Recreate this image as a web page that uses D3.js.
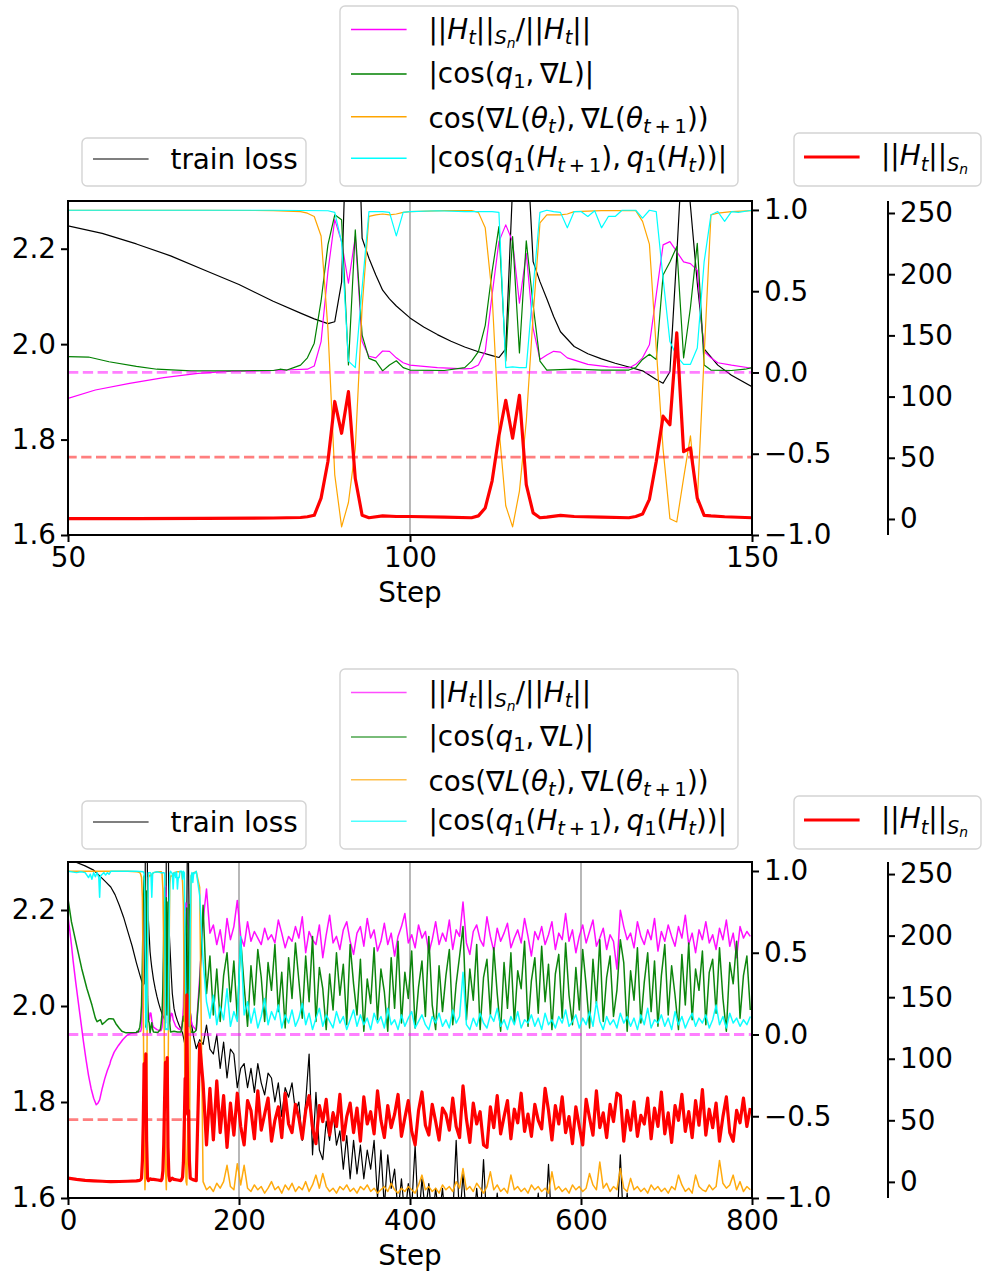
<!DOCTYPE html>
<html><head><meta charset="utf-8">
<script src="https://cdn.jsdelivr.net/npm/d3@7"></script>
<style>body{margin:0;background:#fff}</style>
</head><body>
<svg id="c" width="982" height="1273" style="background:#fff"></svg>
<script>
// ---------- DATA ----------
// window shared by both panels (steps 50–150): [step, value]
const lossMid = [[50,2.248],[55,2.232],[60,2.21],[65,2.185],[70,2.155],[75,2.125],[80,2.09],[84,2.065],[86,2.053],[88,2.043],[89,2.047],[90,2.13],[91,2.585],[92,2.676],[93,2.222],[94,2.18],[95,2.145],[96,2.113],[97,2.095],[98,2.08],[100,2.055],[102,2.036],[104,2.02],[106,2.006],[108,1.994],[110,1.984],[112,1.976],[113,1.972],[114,1.99],[115,2.33],[116,2.75],[117,2.45],[118,2.173],[119,2.131],[120,2.095],[121,2.058],[122,2.026],[124,1.995],[126,1.98],[128,1.969],[130,1.96],[132,1.952],[134,1.944],[136,1.926],[137,1.918],[138,1.942],[139,2.187],[140,2.45],[141,2.29],[142,2.128],[143,1.99],[145,1.956],[147,1.935],[150,1.911]];
const sharpMid = [[50,0.2],[60,0.3],[70,0.5],[80,0.8],[84,1.2],[85,1.8],[86,3],[87,17],[88,47],[89,96],[90,70],[91,104],[92,33],[93,3],[94,1],[96,2.5],[98,2],[100,2],[105,1.5],[109,1],[110,2.5],[111,9],[112,31],[113,68],[114,97],[115,66],[116,101],[117,28],[118,5],[119,1],[120,1.5],[122,3],[124,2],[128,1.5],[132,1],[133,2],[134,4],[135,16],[136,47],[137,84],[138,77],[139,152],[140,55],[141,58],[142,17],[143,3],[144,2.5],[146,1.8],[150,1]];
const gradCosMid = [[50,0.998],[60,0.998],[70,0.998],[80,0.996],[84,0.99],[85,0.98],[86,0.96],[87,0.84],[88,0.27],[89,-0.63],[90,-0.95],[91,-0.8],[92,-0.47],[93,0.4],[94,0.96],[95,0.97],[96,0.975],[97,0.97],[98,0.975],[99,0.985],[100,0.99],[105,0.996],[109,0.996],[110,0.985],[111,0.89],[112,0.48],[113,-0.34],[114,-0.82],[115,-0.95],[116,-0.73],[117,-0.3],[118,0.35],[119,0.92],[120,0.97],[121,0.97],[122,0.97],[123,0.975],[124,0.99],[128,0.996],[133,0.996],[134,0.93],[135,0.79],[136,0.15],[137,-0.47],[138,-0.9],[139,-0.92],[140,-0.65],[141,-0.39],[142,-0.8],[143,0.1],[144,0.97],[145,0.98],[147,0.99],[150,0.996]];
const eigCosMid = [[50,0.998],[60,0.998],[70,0.998],[80,0.998],[88,0.995],[89,0.985],[90,0.8],[91,0.07],[92,0.03],[93,0.52],[94,0.99],[95,0.99],[96,0.99],[97,0.985],[98,0.84],[99,0.985],[100,0.99],[104,0.995],[108,0.99],[112,0.99],[113,0.985],[114,0.03],[115,0.035],[116,0.03],[117,0.03],[118,0.52],[119,0.985],[120,0.998],[121,0.99],[122,0.985],[123,0.89],[124,0.99],[125,0.99],[126,0.96],[127,0.995],[128,0.89],[129,0.96],[130,0.96],[131,0.998],[133,0.998],[134,0.95],[135,0.998],[136,0.99],[137,0.58],[138,0.19],[139,0.1],[140,0.05],[141,0.05],[142,0.15],[143,0.68],[144,0.97],[145,0.99],[146,0.93],[147,0.99],[148,0.985],[150,0.998]];
const alignMid = [[50,0.097],[53,0.095],[56,0.066],[60,0.038],[63,0.02],[68,0.01],[75,0.01],[80,0.012],[81,0.02],[82,0.015],[83,0.03],[84,0.045],[85,0.09],[86,0.18],[87,0.44],[88,0.785],[89,0.97],[90,0.94],[91,0.046],[92,0.877],[93,0.23],[94,0.087],[95,0.07],[96,0.01],[97,0.046],[98,0.072],[99,0.03],[100,0.015],[105,0.012],[108,0.03],[109,0.07],[110,0.128],[111,0.29],[112,0.62],[113,0.897],[114,0.07],[115,0.836],[116,0.12],[117,0.81],[118,0.415],[119,0.07],[120,0.015],[124,0.02],[128,0.015],[132,0.015],[133,0.03],[134,0.08],[135,0.112],[136,0.08],[137,0.6],[138,0.68],[139,0.774],[140,0.09],[141,0.4],[142,0.795],[143,0.046],[144,0.015],[147,0.012],[149,0.02],[150,0.03]];
const ratioMid = [[50,-0.159],[54,-0.108],[59,-0.067],[64,-0.032],[69,-0.005],[74,0.008],[80,0.012],[85,0.02],[86,0.04],[87,0.19],[88,0.62],[89,0.94],[90,0.805],[91,0.549],[92,0.836],[93,0.19],[94,0.1],[95,0.09],[96,0.132],[97,0.13],[98,0.09],[99,0.06],[100,0.045],[104,0.03],[108,0.022],[109,0.025],[110,0.046],[111,0.13],[112,0.477],[113,0.805],[114,0.908],[115,0.805],[116,0.426],[117,0.733],[118,0.272],[119,0.08],[120,0.108],[121,0.13],[122,0.125],[123,0.09],[126,0.05],[129,0.035],[132,0.028],[133,0.05],[134,0.09],[135,0.17],[136,0.477],[137,0.785],[138,0.805],[139,0.743],[140,0.68],[141,0.67],[142,0.63],[143,0.128],[144,0.09],[145,0.06],[147,0.045],[150,0.026]];

// early part of the run (steps 0–49), bottom panel only
const lossEarly = [[0,2.305],[10,2.299],[20,2.292],[30,2.283],[40,2.266],[45,2.257]];
const sharpEarly = [[0,3],[10,2],[20,1.2],[30,0.8],[40,0.5],[45,0.3]];
const gradCosEarly = [[0,0.998],[20,0.998],[45,0.998]];
const eigCosEarly = [[0,0.998],[10,0.99],[15,0.995],[20,0.99],[24,0.96],[26,0.98],[28,0.95],[30,0.99],[32,0.965],[34,0.99],[36,0.96],[37,0.84],[38,0.97],[40,0.98],[42,0.99],[44,0.975],[46,0.99],[48,0.98]];
const alignEarly = [[0,0.83],[4,0.69],[10,0.547],[16,0.404],[22,0.283],[28,0.18],[32,0.1],[34,0.078],[36,0.085],[38,0.09],[40,0.062],[43,0.075],[46,0.09],[48,0.097]];
const ratioEarly = [[0,0.72],[2,0.64],[4,0.55],[6,0.45],[9,0.32],[12,0.2],[15,0.08],[18,-0.04],[21,-0.15],[24,-0.25],[27,-0.33],[30,-0.39],[33,-0.43],[35,-0.42],[37,-0.4],[40,-0.33],[43,-0.27],[46,-0.22],[49,-0.18]];

// late part (steps 154..798, every 4 steps), bottom panel only
const lateSteps = d3.range(154, 801, 4);
const lossLate = [1.93,1.92,1.96,1.91,1.90,1.94,1.87,1.925,1.85,1.91,
1.90,1.83,1.87,1.88,1.83,1.87,1.82,1.88,1.84,1.815,
1.86,1.85,1.80,1.84,1.77,1.83,1.81,1.84,1.78,1.80,
1.72,1.80,1.90,1.69,1.82,1.70,1.68,1.76,1.72,1.78,
1.71,1.74,1.66,1.73,1.64,1.72,1.65,1.71,1.64,1.70,
1.66,1.72,1.60,1.70,1.58,1.69,1.62,1.66,1.57,1.64,
1.56,1.63,1.58,1.71,1.55,1.64,1.57,1.63,1.55,1.62,
1.56,1.62,1.54,1.60,1.56,1.72,1.55,1.65,1.56,1.60,
1.54,1.62,1.55,1.68,1.54,1.58,1.53,1.61,1.54,1.52,
1.58,1.53,1.55,1.52,1.54,1.53,1.55,1.52,1.54,1.61,
1.53,1.54,1.67,1.53,1.52,1.55,1.53,1.52,1.54,1.53,
1.52,1.54,1.53,1.55,1.52,1.53,1.54,1.53,1.52,1.54,
1.53,1.52,1.54,1.69,1.53,1.61,1.52,1.54,1.53,1.52,
1.53,1.54,1.52,1.53,1.55,1.52,1.54,1.53,1.52,1.54,
1.53,1.52,1.54,1.53,1.52,1.55,1.53,1.52,1.54,1.53,
1.52,1.54,1.53,1.52,1.55,1.53,1.52,1.54,1.53,1.52,
1.54,1.53];
const sharpLate = [112,80,30,76,34,82,40,70,28,64,
38,72,45,30,66,58,35,74,42,55,
68,33,50,61,36,72,47,40,63,52,
35,58,70,44,31,62,49,67,38,56,
45,71,34,53,64,40,60,33,69,47,
57,39,74,50,36,62,44,55,71,37,
52,66,41,30,58,73,46,38,63,49,
34,60,55,42,68,45,36,78,51,32,
64,47,57,30,28,61,44,70,39,53,
66,35,59,48,72,41,55,37,63,50,
43,76,58,34,62,47,69,40,53,31,
61,45,30,67,52,38,74,44,56,36,
63,49,72,70,33,58,42,65,37,54,
47,68,35,60,45,73,39,56,32,62,
50,71,41,57,36,66,46,75,38,59,
44,64,33,53,69,40,33,58,48,68,
45,60];
const gradCosLate = [0.9,-0.90,-0.95,-0.93,-0.96,-0.91,-0.94,-0.90,-0.80,-0.93,
-0.95,-0.79,-0.92,-0.80,-0.94,-0.96,-0.92,-0.95,-0.93,-0.97,
-0.94,-0.90,-0.95,-0.93,-0.97,-0.92,-0.95,-0.91,-0.96,-0.93,
-0.95,-0.90,-0.96,-0.92,-0.86,-0.94,-0.85,-0.93,-0.96,-0.94,
-0.97,-0.93,-0.95,-0.92,-0.96,-0.94,-0.97,-0.93,-0.95,-0.92,
-0.96,-0.94,-0.97,-0.95,-0.93,-0.96,-0.91,-0.95,-0.97,-0.94,
-0.96,-0.93,-0.95,-0.97,-0.92,-0.86,-0.95,-0.93,-0.96,-0.94,
-0.97,-0.92,-0.95,-0.93,-0.96,-0.90,-0.94,-0.82,-0.95,-0.93,
-0.96,-0.91,-0.94,-0.97,-0.93,-0.84,-0.95,-0.92,-0.96,-0.94,
-0.97,-0.86,-0.95,-0.93,-0.96,-0.94,-0.97,-0.92,-0.95,-0.93,
-0.96,-0.94,-0.97,-0.84,-0.95,-0.93,-0.96,-0.94,-0.97,-0.92,
-0.95,-0.93,-0.96,-0.94,-0.85,-0.92,-0.95,-0.78,-0.94,-0.91,
-0.96,-0.93,-0.95,-0.82,-0.94,-0.96,-0.88,-0.95,-0.93,-0.96,
-0.94,-0.97,-0.92,-0.95,-0.93,-0.96,-0.94,-0.97,-0.93,-0.95,
-0.86,-0.92,-0.96,-0.94,-0.97,-0.86,-0.93,-0.95,-0.96,-0.92,
-0.95,-0.93,-0.77,-0.91,-0.94,-0.92,-0.86,-0.95,-0.90,-0.96,
-0.93,-0.95];
const ratioLate = [0.35,0.70,0.89,0.62,0.67,0.55,0.64,0.50,0.71,0.58,
0.66,0.82,0.60,0.54,0.69,0.57,0.63,0.59,0.55,0.65,
0.58,0.61,0.56,0.70,0.62,0.53,0.60,0.57,0.66,0.59,
0.72,0.50,0.63,0.58,0.55,0.67,0.47,0.61,0.73,0.56,
0.60,0.52,0.64,0.69,0.57,0.49,0.62,0.66,0.54,0.71,
0.59,0.64,0.51,0.57,0.68,0.55,0.62,0.48,0.60,0.66,
0.74,0.56,0.61,0.53,0.67,0.59,0.63,0.50,0.58,0.69,
0.55,0.62,0.57,0.70,0.52,0.64,0.60,0.81,0.56,0.49,
0.63,0.67,0.58,0.54,0.72,0.60,0.51,0.65,0.57,0.62,
0.68,0.53,0.59,0.64,0.56,0.71,0.60,0.48,0.63,0.58,
0.66,0.55,0.61,0.69,0.52,0.62,0.58,0.74,0.57,0.64,
0.50,0.60,0.67,0.56,0.63,0.70,0.54,0.59,0.65,0.52,
0.61,0.57,0.40,0.76,0.66,0.58,0.62,0.53,0.69,0.60,
0.55,0.64,0.58,0.71,0.51,0.63,0.57,0.67,0.60,0.54,
0.66,0.59,0.73,0.55,0.62,0.50,0.64,0.58,0.69,0.56,
0.61,0.52,0.65,0.58,0.70,0.54,0.62,0.47,0.66,0.59,
0.63,0.60];
const alignLate = [0.30,0.79,0.25,0.48,0.12,0.40,0.08,0.36,0.50,0.20,
0.45,0.10,0.58,0.30,0.05,0.42,0.18,0.52,0.35,0.08,
0.44,0.27,0.55,0.14,0.38,0.04,0.47,0.22,0.56,0.33,
0.10,0.48,0.20,0.60,0.08,0.41,0.28,0.03,0.37,0.15,
0.50,0.24,0.43,0.06,0.55,0.31,0.12,0.46,0.02,0.34,
0.19,0.53,0.09,0.40,0.26,0.02,0.47,0.16,0.57,0.07,
0.38,0.22,0.51,0.04,0.29,0.45,0.11,0.60,0.18,0.03,
0.42,0.14,0.36,0.52,0.06,0.31,0.48,0.66,0.09,0.40,
0.21,0.55,0.03,0.35,0.46,0.12,0.53,0.25,0.02,0.44,
0.16,0.50,0.07,0.39,0.28,0.57,0.05,0.33,0.47,0.13,
0.54,0.20,0.43,0.03,0.37,0.49,0.10,0.56,0.24,0.06,
0.41,0.15,0.52,0.30,0.04,0.46,0.19,0.58,0.08,0.35,
0.48,0.11,0.27,0.58,0.44,0.02,0.39,0.21,0.53,0.07,
0.32,0.50,0.14,0.45,0.05,0.36,0.55,0.12,0.42,0.24,
0.03,0.49,0.18,0.56,0.09,0.40,0.27,0.51,0.06,0.38,
0.46,0.13,0.53,0.22,0.02,0.44,0.31,0.57,0.10,0.36,
0.48,0.15];
const eigCosLate = [0.85,0.45,0.20,0.10,0.24,0.06,0.17,0.09,0.28,0.05,
0.14,0.08,0.60,0.12,0.20,0.07,0.16,0.04,0.11,0.22,
0.06,0.14,0.09,0.18,0.04,0.12,0.07,0.15,0.05,0.10,
0.19,0.06,0.13,0.03,0.10,0.16,0.05,0.12,0.08,0.04,
0.14,0.07,0.11,0.03,0.09,0.15,0.05,0.12,0.06,0.10,
0.03,0.13,0.07,0.11,0.04,0.16,0.06,0.09,0.03,0.12,
0.05,0.10,0.14,0.04,0.08,0.12,0.06,0.03,0.11,0.07,
0.13,0.05,0.09,0.04,0.15,0.07,0.11,0.38,0.06,0.03,
0.10,0.05,0.13,0.07,0.04,0.12,0.08,0.16,0.05,0.09,
0.03,0.11,0.06,0.14,0.04,0.09,0.07,0.12,0.05,0.10,
0.03,0.13,0.06,0.09,0.04,0.11,0.07,0.15,0.05,0.08,
0.12,0.04,0.10,0.06,0.14,0.05,0.20,0.08,0.03,0.11,
0.06,0.09,0.04,0.13,0.07,0.11,0.05,0.10,0.03,0.12,
0.06,0.16,0.04,0.09,0.07,0.12,0.05,0.10,0.03,0.14,
0.06,0.11,0.04,0.09,0.13,0.05,0.10,0.07,0.12,0.04,
0.09,0.18,0.06,0.11,0.04,0.13,0.07,0.10,0.05,0.09,
0.06,0.11];

const ratioRef = 0;       // magenta dashed level (cos axis)
const sharpRef = 50.5;    // red dashed level (sharpness axis)
const sharpRefEnd = 150;  // red dashed drawn up to this step

const topXTicks = [50, 100, 150];
const botXTicks = [0, 200, 400, 600, 800];
const lossTicks = [1.6, 1.8, 2.0, 2.2];
const cosTicks = [-1.0, -0.5, 0.0, 0.5, 1.0];
const sharpTicks = [0, 50, 100, 150, 200, 250];

// ---------- DRAW ----------
const svg = d3.select("#c");
const FS = 27.8;
const FONT = "DejaVu Sans";
const C = {ratio:"#ff00ff", align:"#008000", grad:"#ffa500", eig:"#00ffff", loss:"#000000", sharp:"#ff0000"};

const withLate = (early, mid, late) => early.concat(mid, lateSteps.map((s, i) => [s, late[i]]));

function rich(g, x, y, segs, size) {
  const t = g.append("text").attr("x", x).attr("y", y).attr("font-family", FONT)
    .attr("font-size", size).attr("fill", "#000").style("white-space", "pre");
  let cur = 0;
  segs.forEach(([s, st]) => {
    const lvl = st.includes("ss") ? 2 : (st.includes("s") ? 1 : 0);
    const off = [0, 0.2 * size, 0.33 * size][lvl];
    const fs = [size, size * 0.7, size * 0.5][lvl];
    t.append("tspan").attr("dy", off - cur).attr("font-size", fs)
      .attr("font-style", st.includes("i") ? "italic" : "normal").text(s);
    cur = off;
  });
}

const TS = "\u2009";
const labRatio = [["||",""],["H","i"],["t","is"],["||",""],["S","is"],["n","iss"],["/||",""],["H","i"],["t","is"],["||",""]];
const labAlign = [["|cos(",""],["q","i"],["1","s"],[","+TS+"∇",""],["L","i"],[")|",""]];
const labGrad = [["cos(∇",""],["L","i"],["(",""],["θ","i"],["t","is"],["),"+TS+"∇",""],["L","i"],["(",""],["θ","i"],["t","is"],[TS+"+"+TS+"1","s"],["))",""]];
const labEig = [["|cos(",""],["q","i"],["1","s"],["(",""],["H","i"],["t","is"],[TS+"+"+TS+"1","s"],["),"+TS,""],["q","i"],["1","s"],["(",""],["H","i"],["t","is"],["))|",""]];
const labSharp = [["||",""],["H","i"],["t","is"],["||",""],["S","is"],["n","iss"]];

function panel(p) {
  const L = 68, R = 752, T = p.top, B = p.bottom, AX2 = 888;
  const g = svg.append("g");
  const x = d3.scaleLinear().domain(p.xDomain).range([L, R]);
  const yL = d3.scaleLinear().domain([1.6, 2.3]).range([B, T]);
  const y1 = d3.scaleLinear().domain([-1, 1.055]).range([B, T]);
  const y2 = d3.scaleLinear().domain([-13.1, 259.8]).range([B, T]);

  const cid = "clip" + p.id;
  g.append("clipPath").attr("id", cid).append("rect").attr("x", L).attr("y", T).attr("width", R - L).attr("height", B - T);

  g.append("g").selectAll("line").data(p.grid).join("line")
    .attr("x1", d => x(d)).attr("x2", d => x(d)).attr("y1", T).attr("y2", B)
    .attr("stroke", "#b0b0b0").attr("stroke-width", 1.8);

  const pg = g.append("g").attr("clip-path", `url(#${cid})`);
  const path = (data, ys, color, w, op, dash) => {
    const el = pg.append("path").datum(data)
      .attr("d", d3.line().x(d => x(d[0])).y(d => ys(d[1])))
      .attr("fill", "none").attr("stroke", color).attr("stroke-width", w)
      .attr("stroke-opacity", op).attr("stroke-linejoin", "round");
    if (dash) el.attr("stroke-dasharray", dash);
  };
  const op = p.alpha;
  path(p.loss, yL, C.loss, 1.2, 1);
  path(p.ratio, y1, C.ratio, p.lw, op);
  path(p.align, y1, C.align, p.lw, op);
  path(p.grad, y1, C.grad, p.lw, op);
  path(p.eig, y1, C.eig, p.lw, op);
  path([[p.xDomain[0], ratioRef], [p.xDomain[1], ratioRef]], y1, "#ff00ff", 2.8, 0.5, "10.3,4.5");
  path(p.sharp, y2, C.sharp, 3.2, 1);
  path([[0, sharpRef], [sharpRefEnd, sharpRef]], y2, "#ff0000", 2.8, 0.5, "10.3,4.5");

  g.append("rect").attr("x", L).attr("y", T).attr("width", R - L).attr("height", B - T)
    .attr("fill", "none").attr("stroke", "#000").attr("stroke-width", 2);
  g.append("line").attr("x1", AX2).attr("x2", AX2).attr("y1", T).attr("y2", B)
    .attr("stroke", "#000").attr("stroke-width", 2);

  const style = a => {
    a.select(".domain").remove();
    a.attr("font-size", FS).attr("font-family", FONT);
    a.selectAll("line").attr("stroke-width", 2);
    a.selectAll("text").attr("fill", "#000");
  };
  g.append("g").attr("transform", `translate(0,${B})`)
    .call(d3.axisBottom(x).tickValues(p.xTicks).tickFormat(d3.format("d")).tickSize(7).tickPadding(5)).call(style);
  g.append("g").attr("transform", `translate(${L},0)`)
    .call(d3.axisLeft(yL).tickValues(lossTicks).tickFormat(d3.format(".1f")).tickSize(7).tickPadding(5)).call(style);
  g.append("g").attr("transform", `translate(${R},0)`)
    .call(d3.axisRight(y1).tickValues(cosTicks).tickFormat(d3.format(".1f")).tickSize(7).tickPadding(5)).call(style);
  g.append("g").attr("transform", `translate(${AX2},0)`)
    .call(d3.axisRight(y2).tickValues(sharpTicks).tickFormat(d3.format("d")).tickSize(7).tickPadding(5)).call(style);

  g.append("text").attr("x", (L + R) / 2).attr("y", B + 67).attr("text-anchor", "middle")
    .attr("font-family", FONT).attr("font-size", FS).text("Step");

  const o = p.legOff;
  const box = (bx, by, bw, bh) => g.append("rect").attr("x", bx).attr("y", by + o).attr("width", bw).attr("height", bh)
    .attr("rx", 5).attr("fill", "#fff").attr("fill-opacity", 0.8).attr("stroke", "#d4d4d4").attr("stroke-width", 1.4);
  const handle = (hx, hy, color, w, opc) => g.append("line").attr("x1", hx).attr("x2", hx + 55.6)
    .attr("y1", hy + o).attr("y2", hy + o).attr("stroke", color).attr("stroke-width", w).attr("stroke-opacity", opc);

  box(82, 138, 224, 48);
  handle(93, 159, C.loss, 1.2, 1);
  g.append("text").attr("x", 170.5).attr("y", 169 + o).attr("font-family", FONT).attr("font-size", FS).text("train loss");

  box(340, 6, 398, 180);
  const rows = [[labRatio, C.ratio, 29.5, 38.5], [labAlign, C.align, 74, 82.7], [labGrad, C.grad, 116.7, 127.7], [labEig, C.eig, 158.3, 166.8]];
  rows.forEach(([lab, col, hy, by]) => {
    handle(351, hy, col, 1.6, p.legAlpha);
    rich(g, 428.5, by + o, lab, FS);
  });

  box(794, 133, 187, 53);
  handle(804, 157, C.sharp, 3.2, 1);
  rich(g, 881, 165 + o, labSharp, FS);
}

panel({
  id: "top", top: 201, bottom: 535, xDomain: [50, 150], xTicks: topXTicks, grid: [100],
  loss: lossMid, ratio: ratioMid, align: alignMid, grad: gradCosMid, eig: eigCosMid, sharp: sharpMid,
  alpha: 1, legAlpha: 1, lw: 1.2, legOff: 0
});
panel({
  id: "bot", top: 862, bottom: 1198, xDomain: [0, 800], xTicks: botXTicks, grid: [200, 400, 600],
  loss: withLate(lossEarly, lossMid, lossLate),
  ratio: withLate(ratioEarly, ratioMid, ratioLate),
  align: withLate(alignEarly, alignMid, alignLate),
  grad: withLate(gradCosEarly, gradCosMid, gradCosLate),
  eig: withLate(eigCosEarly, eigCosMid, eigCosLate),
  sharp: withLate(sharpEarly, sharpMid, sharpLate),
  alpha: 0.95, legAlpha: 0.7, lw: 1.5, legOff: 663
});
</script>
</body></html>
